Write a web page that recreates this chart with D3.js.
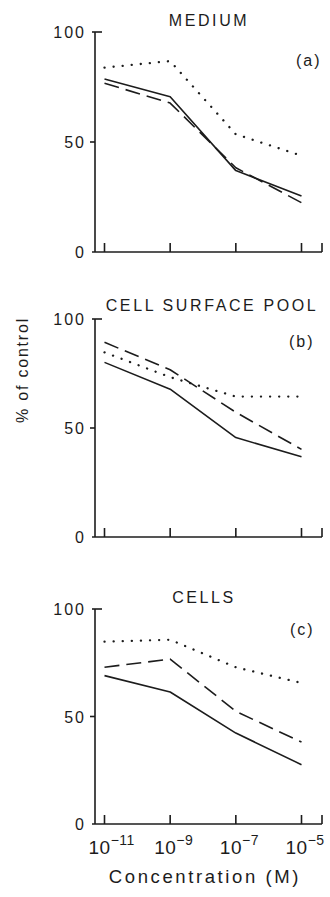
<!DOCTYPE html>
<html><head><meta charset="utf-8">
<script src="https://cdn.jsdelivr.net/npm/d3@7"></script>
<style>
html,body{margin:0;padding:0;background:#fff;}
svg{display:block;}
text{font-family:"Liberation Sans",Arial,Helvetica,sans-serif;fill:#1c1c1c;}
</style></head><body>
<svg id="chart" width="330" height="897"></svg>
<script>
// ---- data ----
const concentrations = [1e-11, 1e-9, 1e-7, 1e-5];
const tickExponents = ["-11", "-9", "-7", "-5"];
const yTicks = [0, 50, 100];
const panelTitles = ["MEDIUM", "CELL SURFACE POOL", "CELLS"];
const panelLetters = ["(a)", "(b)", "(c)"];
const seriesNames = ["solid", "dashed", "dotted"];

const mediumSolid  = [78.6, 70.6, 37.0, 25.5];
const mediumDashed = [76.7, 67.7, 38.3, 22.4];
const mediumDotted = [83.8, 86.8, 53.5, 43.8];

const surfaceSolid  = [80.1, 67.8, 45.6, 36.8];
const surfaceDashed = [89.3, 76.7, 57.2, 40.2];
const surfaceDotted = [84.7, 73.3, 64.4, 64.4];

const cellsSolid  = [69.0, 61.4, 42.3, 27.6];
const cellsDashed = [72.9, 76.7, 52.4, 38.1];
const cellsDotted = [84.8, 85.7, 72.9, 65.6];

const panelData = [
  [mediumSolid, mediumDashed, mediumDotted],
  [surfaceSolid, surfaceDashed, surfaceDotted],
  [cellsSolid, cellsDashed, cellsDotted]
];

// ---- layout ----
const svg = d3.select("#chart");
const axisX0 = 95, axisX1 = 322;
const panels = [
  {top: 32,  bottom: 252, titleX: 209, titleY: 26,  letterX: 296, letterY: 66},
  {top: 319, bottom: 537, titleX: 212, titleY: 311, letterX: 289, letterY: 347},
  {top: 609, bottom: 824, titleX: 204, titleY: 603, letterX: 290, letterY: 635}
];
const x = d3.scaleLog().domain([1e-11, 1e-5]).range([104.5, 301.5]);
const styles = {
  solid:  {dash: null, width: 1.6, cap: "butt"},
  dashed: {dash: "15,7", width: 1.6, cap: "butt"},
  dotted: {dash: "0.1,9", width: 2.3, cap: "round"}
};
const ink = "#1c1c1c";

panels.forEach((p, i) => {
  const y = d3.scaleLinear().domain([0, 100]).range([p.bottom, p.top]);
  const g = svg.append("g");

  // y axis line
  g.append("line").attr("x1", axisX0).attr("x2", axisX0)
    .attr("y1", y(100)).attr("y2", y(0)).attr("stroke", ink).attr("stroke-width", 1.6);
  // x axis line
  g.append("line").attr("x1", axisX0 - 3).attr("x2", axisX1)
    .attr("y1", y(0)).attr("y2", y(0)).attr("stroke", ink).attr("stroke-width", 1.6);
  // y ticks
  yTicks.forEach(t => {
    if (t === 100) {
      g.append("line").attr("x1", axisX0 - 3).attr("x2", axisX0 + 7)
        .attr("y1", y(t)).attr("y2", y(t)).attr("stroke", ink).attr("stroke-width", 1.6);
    } else if (t === 50) {
      g.append("line").attr("x1", axisX0 - 5).attr("x2", axisX0)
        .attr("y1", y(t)).attr("y2", y(t)).attr("stroke", ink).attr("stroke-width", 1.6);
    }
    g.append("text").attr("x", 86).attr("y", y(t) + 6)
      .attr("text-anchor", "end").attr("font-size", 16).attr("letter-spacing", 2)
      .text(t);
  });
  // x ticks (inside, upward)
  const xt = concentrations.map(c => x(c)).concat([axisX1]);
  xt.forEach(px => {
    g.append("line").attr("x1", px).attr("x2", px)
      .attr("y1", y(0)).attr("y2", y(0) - 9).attr("stroke", ink).attr("stroke-width", 1.6);
  });

  // series
  panelData[i].forEach((vals, s) => {
    const st = styles[seriesNames[s]];
    const line = d3.line().x((d, k) => x(concentrations[k])).y(d => y(d));
    g.append("path").attr("d", line(vals)).attr("fill", "none")
      .attr("stroke", ink).attr("stroke-width", st.width)
      .attr("stroke-linecap", st.cap).attr("stroke-linejoin", "round")
      .attr("stroke-dasharray", st.dash);
  });

  // titles
  g.append("text").attr("x", p.titleX).attr("y", p.titleY)
    .attr("text-anchor", "middle").attr("font-size", 16).attr("letter-spacing", 2.6)
    .text(panelTitles[i]);
  g.append("text").attr("x", p.letterX).attr("y", p.letterY)
    .attr("font-size", 16).attr("letter-spacing", 2)
    .text(panelLetters[i]);

  // x tick labels on bottom panel
  if (i === 2) {
    concentrations.forEach((c, k) => {
      const t = g.append("text").attr("x", x(c) - 16).attr("y", y(0) + 30)
        .attr("font-size", 19).attr("letter-spacing", 0.5);
      t.append("tspan").text("10");
      t.append("tspan").attr("dy", -9).attr("font-size", 14).text("\u2212" + tickExponents[k].slice(1));
    });
  }
});

// axis titles
svg.append("text").attr("x", 205).attr("y", 883)
  .attr("text-anchor", "middle").attr("font-size", 18.5).attr("letter-spacing", 2.6)
  .text("Concentration (M)");
svg.append("text").attr("transform", "translate(28,370) rotate(-90)")
  .attr("text-anchor", "middle").attr("font-size", 16).attr("letter-spacing", 1.8)
  .text("% of control");
</script>
</body></html>
